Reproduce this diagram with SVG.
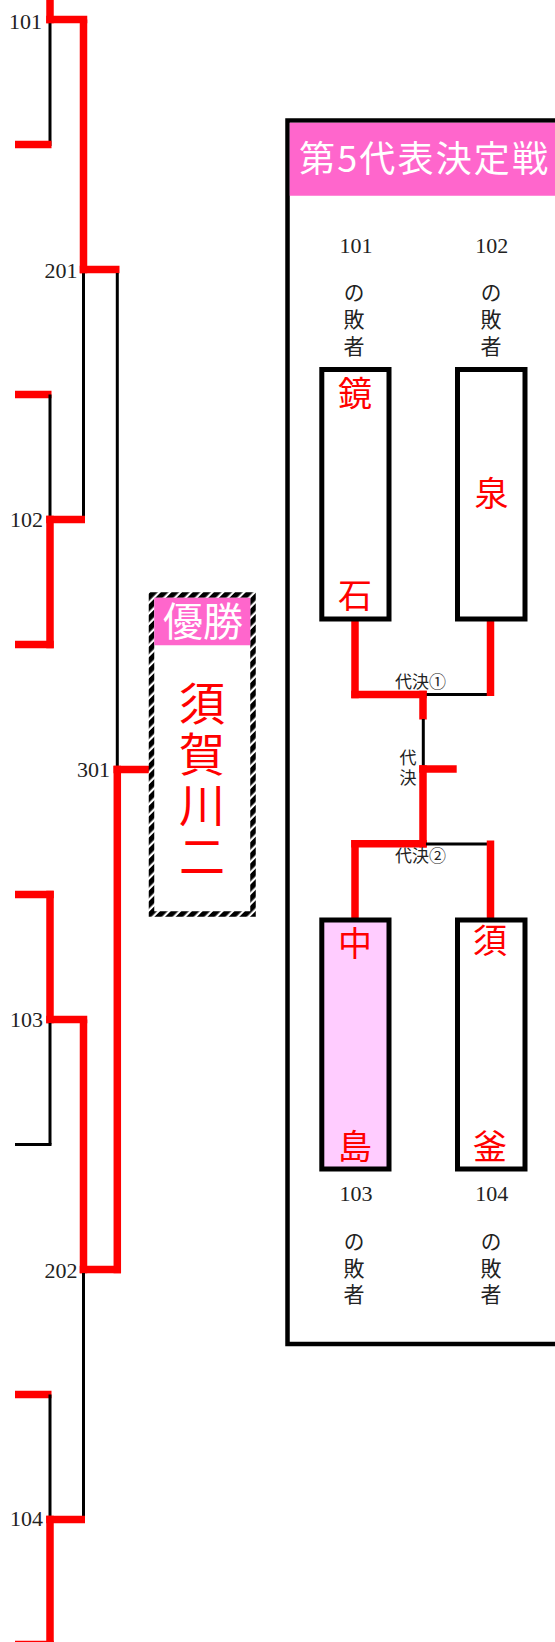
<svg xmlns="http://www.w3.org/2000/svg" width="555" height="1642" viewBox="0 0 555 1642">
<style>
.r{stroke:#ff0000;stroke-width:7.5;fill:none}
.k{stroke:#000;stroke-width:3;fill:none}
.num{font-family:"Liberation Serif","Noto Sans CJK JP",serif;font-size:22px;fill:#222}
.jp{font-family:"Noto Sans CJK JP",sans-serif;fill:#222}
.vt{writing-mode:vertical-rl}
.nm{font-family:"Noto Sans CJK JP",sans-serif;font-size:34px;fill:#ff0000;text-anchor:middle}
.pbox{stroke:#000;stroke-width:5}
.pink{fill:#ff66cc}
.wt{font-family:"Noto Sans CJK JP",sans-serif;fill:#fff}
</style>
<defs>
<pattern id="hatch" patternUnits="userSpaceOnUse" width="7.5" height="7.5" patternTransform="rotate(45)">
<rect x="0" y="0" width="7.5" height="7.5" fill="#fff"/>
<rect x="0" y="0" width="5.3" height="7.5" fill="#000"/>
</pattern>
</defs>
<rect x="0" y="0" width="555" height="1642" fill="#fff"/>

<g id="connectors">
<!-- 101 -->
<line class="r" x1="50" y1="-110" x2="50" y2="23.25"/>
<line class="k" x1="50" y1="23" x2="50" y2="146"/>
<line class="r" x1="15" y1="144.5" x2="51.5" y2="144.5"/>
<line class="r" x1="46.25" y1="19.5" x2="87.25" y2="19.5"/>
<!-- 201 -->
<line class="r" x1="83.5" y1="19.5" x2="83.5" y2="273.25"/>
<line class="k" x1="83.5" y1="273" x2="83.5" y2="519.5"/>
<line class="r" x1="79.75" y1="269.5" x2="119.5" y2="269.5"/>
<line class="k" x1="117.3" y1="273" x2="117.3" y2="769.5"/>
<!-- 102 -->
<line class="r" x1="15" y1="394.5" x2="51.5" y2="394.5"/>
<line class="k" x1="50" y1="394.5" x2="50" y2="519.5"/>
<line class="r" x1="46.25" y1="519.5" x2="85" y2="519.5"/>
<line class="r" x1="50" y1="515.75" x2="50" y2="648.25"/>
<line class="r" x1="15" y1="644.5" x2="53.75" y2="644.5"/>
<!-- 301 -->
<line class="r" x1="113.5" y1="769.5" x2="154" y2="769.5"/>
<line class="r" x1="117.3" y1="765.75" x2="117.3" y2="1273.25"/>
<!-- 103 -->
<line class="r" x1="15" y1="894.5" x2="53.75" y2="894.5"/>
<line class="r" x1="50" y1="890.75" x2="50" y2="1023.25"/>
<line class="r" x1="46.25" y1="1019.5" x2="87.25" y2="1019.5"/>
<line class="k" x1="50" y1="1023" x2="50" y2="1144.5"/>
<line class="k" x1="15" y1="1144.5" x2="51.5" y2="1144.5"/>
<!-- 202 -->
<line class="r" x1="83.5" y1="1019.5" x2="83.5" y2="1273.25"/>
<line class="r" x1="79.75" y1="1269.5" x2="121" y2="1269.5"/>
<line class="k" x1="83.5" y1="1273" x2="83.5" y2="1519.5"/>
<!-- 104 -->
<line class="r" x1="15" y1="1394.5" x2="51.5" y2="1394.5"/>
<line class="k" x1="50" y1="1394.5" x2="50" y2="1519.5"/>
<line class="r" x1="46.25" y1="1519.5" x2="85" y2="1519.5"/>
<line class="r" x1="50" y1="1515.75" x2="50" y2="1650"/>
<line class="r" x1="15" y1="1644.5" x2="53.75" y2="1644.5"/>
</g>

<g id="match-labels">
<text class="num" x="42" y="28.5" text-anchor="end">101</text>
<text class="num" x="43" y="527" text-anchor="end">102</text>
<text class="num" x="43" y="1027" text-anchor="end">103</text>
<text class="num" x="43" y="1526" text-anchor="end">104</text>
<text class="num" x="77.5" y="278" text-anchor="end">201</text>
<text class="num" x="77.5" y="1278" text-anchor="end">202</text>
<text class="num" x="110" y="777" text-anchor="end">301</text>
</g>

<g id="winner">
<rect x="151.5" y="595" width="101.5" height="319" fill="#fff" stroke="url(#hatch)" stroke-width="5.5"/>
<rect class="pink" x="154.25" y="597.75" width="96" height="47.5"/>
<text class="wt" x="203" y="636" font-size="40" text-anchor="middle">優勝</text>
<text class="vt" x="202" y="680" font-family="Noto Sans CJK JP,sans-serif" font-size="46" fill="#ff0000" letter-spacing="5">須賀川二</text>
</g>

<g id="rep-panel">
<rect x="287.5" y="120.5" width="300" height="1223.5" fill="#fff" stroke="#000" stroke-width="4.5"/>
<rect class="pink" x="289.75" y="122.75" width="270" height="73"/>
<text class="wt" x="299" y="172" font-size="36" textLength="249" lengthAdjust="spacing">第5代表決定戦</text>
</g>

<g id="rep-connectors">
<line class="r" x1="355" y1="619" x2="355" y2="698.25"/>
<line class="r" x1="351.25" y1="694.5" x2="426.75" y2="694.5"/>
<line class="k" x1="426" y1="694.5" x2="490.5" y2="694.5"/>
<line class="r" x1="490.5" y1="619" x2="490.5" y2="696"/>
<line class="r" x1="423" y1="690.75" x2="423" y2="719.5"/>
<line class="k" x1="423.3" y1="719" x2="423.3" y2="769"/>
<line class="r" x1="419.25" y1="769" x2="456.7" y2="769"/>
<line class="r" x1="423" y1="765.25" x2="423" y2="847.5"/>
<line class="r" x1="351.25" y1="843.7" x2="426.75" y2="843.7"/>
<line class="k" x1="426" y1="844" x2="490.5" y2="844"/>
<line class="r" x1="355" y1="840" x2="355" y2="920"/>
<line class="r" x1="490.5" y1="840.5" x2="490.5" y2="920"/>
<g class="jp" font-size="17">
<text x="395" y="688">代決①</text>
<text x="395" y="862">代決②</text>
<text class="vt" x="408" y="749" letter-spacing="3.5">代決</text>
</g>
</g>

<g id="loser101">
<text class="num" x="356" y="253.3" text-anchor="middle">101</text>
<text class="jp vt" x="354" y="282" font-size="21" letter-spacing="5.75">の敗者</text>
<rect class="pbox" x="321.8" y="369.5" width="67.2" height="249.5" fill="#fff"/>
<text class="nm" x="355" y="405.5">鏡</text>
<text class="nm" x="355" y="608">石</text>
</g>

<g id="loser102">
<text class="num" x="491.7" y="253.3" text-anchor="middle">102</text>
<text class="jp vt" x="491" y="282" font-size="21" letter-spacing="5.75">の敗者</text>
<rect class="pbox" x="457.5" y="369.5" width="67.5" height="249.5" fill="#fff"/>
<text class="nm" x="491.5" y="506">泉</text>
</g>

<g id="loser103">
<rect class="pbox" x="321.8" y="920" width="67.2" height="249" fill="#ffccff"/>
<text class="nm" x="355" y="956">中</text>
<text class="nm" x="355" y="1159">島</text>
<text class="num" x="356" y="1200.7" text-anchor="middle">103</text>
<text class="jp vt" x="354" y="1230.5" font-size="21" letter-spacing="5.75">の敗者</text>
</g>

<g id="loser104">
<rect class="pbox" x="457.5" y="920" width="67.5" height="249" fill="#fff"/>
<text class="nm" x="490" y="953">須</text>
<text class="nm" x="490" y="1158.5">釜</text>
<text class="num" x="491.7" y="1200.7" text-anchor="middle">104</text>
<text class="jp vt" x="491" y="1230.5" font-size="21" letter-spacing="5.75">の敗者</text>
</g>
</svg>
